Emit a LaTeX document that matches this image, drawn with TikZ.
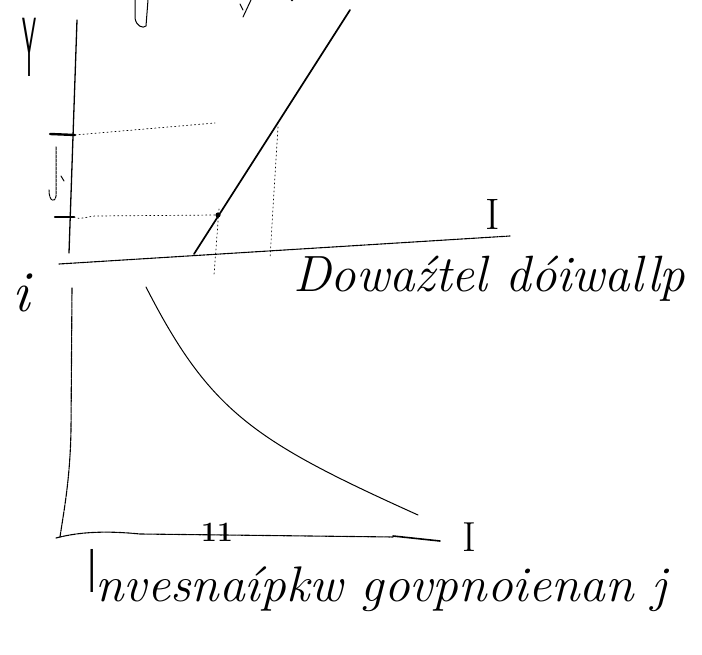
\documentclass[tikz,border=0pt]{standalone}
\usetikzlibrary{calc}
\begin{document}
\begin{tikzpicture}[x=1pt,y=-1pt,line cap=round,line join=round,
  axisline/.style={line width=1.3pt},
  scanline/.style={line width=1.1pt,dash pattern=on 6pt off 1pt},
  guide/.style={line width=0.7pt,dash pattern=on 1.2pt off 2.8pt},
  tickmark/.style={line width=2.4pt},
  sketch/.style={line width=1pt},
  handtext/.style={font=\itshape\fontsize{51}{51}\selectfont,inner sep=0pt,anchor=base west},
  letter/.style={inner sep=0pt}]
\useasboundingbox (0,0) rectangle (702,655);

% ---- labels
\node[letter] (Ylab) at (30,47) {\scalebox{0.28}[1.05]{\sffamily\fontsize{80}{80}\selectfont Y}};
\node[letter] (ilab) at (21,293) {\fontsize{58}{58}\selectfont\itshape i};
\node[letter] (Iup) at (493,214) {\fontsize{44}{44}\selectfont I};
\node[letter] (Ilow) at (469,537) {\fontsize{42}{42}\selectfont I};
\node[letter] (eleven) at (217,532) {\fontsize{28}{28}\selectfont\bfseries 11};
\node[handtext] (midtext) at (293,292) {Dowaźtel dóiwallp};
\node[handtext,font=\itshape\fontsize{50}{50}\selectfont] (bottext) at (88,601)
  {\scalebox{1.03}[1]{\smash{\raisebox{9pt}{\scalebox{0.45}[1]{\fontsize{62}{62}\selectfont\sffamily\upshape I}}}nvesnaípkw govpnoienan j}};

% ---- coordinates
\coordinate (uaxtop) at (77,20);
\coordinate (uaxbot) at (69,253);
\coordinate (t1a) at (50,134);
\coordinate (t1b) at (75,135);
\coordinate (t2a) at (55,217);
\coordinate (t2b) at (74,217);
\coordinate (g1end) at (215,123);
\coordinate (hlstart) at (59,264);
\coordinate (hlend) at (510,236);
\coordinate (sfoot) at (194,254);
\coordinate (stop) at (350,10);
\coordinate (pt) at (218,215);
\coordinate (v1top) at (219,209);
\coordinate (v1bot) at (214,275);
\coordinate (v2top) at (278,127);
\coordinate (v2bot) at (270,258);
\coordinate (laxtop) at (72,288);
\coordinate (laxmid) at (71,430);
\coordinate (laxbot) at (60,537);
\coordinate (baxstart) at (56,538);
\coordinate (baxend) at (440,541);
\coordinate (cstart) at (146,287);
\coordinate (cend) at (418,515);

% ---- upper panel
\draw[axisline] (uaxtop) -- (uaxbot);
\draw[tickmark] (t1a) -- (t1b);
\draw[tickmark] (t2a) -- (t2b);
\draw[guide] (t1b) -- (g1end);
\draw[guide] (t2b) .. controls (80,220) and (85,217) .. (95,216) -- (pt);
\draw[scanline] (hlstart) -- (hlend);
\draw[line width=1.7pt] (sfoot) -- (stop);
\fill (pt) circle (2.6pt);
\draw[guide] (v1top) -- (v1bot);
\draw[guide] (v2top) -- (v2bot);
% arrow sign between the ticks
\draw[sketch,dash pattern=on 3pt off 1pt] (56,147) -- (56,196) .. controls (55,203) and (49,202) .. (49,190);
\draw[sketch] (61,176) -- (64,181);

% ---- lower panel
\draw[scanline] (laxtop) -- (laxmid) .. controls (70,480) and (64,510) .. (laxbot);
\draw[scanline] (baxstart) .. controls (75,533) and (100,530) .. (140,534) -- (393,537);
\draw[line width=1.6pt] (393,536) -- (baxend);
\draw[sketch] (cstart) .. controls (210,412) and (254,441) .. (cend);

% ---- fragments of text cut by the top edge
\draw[sketch] (135,0) -- (135,18) .. controls (136,26) and (143,29) .. (146,26) -- (148,0);
\draw[sketch] (251,0) -- (243,17);
\draw[sketch] (240,4) -- (243,10);
\fill (292,0) circle (1.5pt);
\end{tikzpicture}
\end{document}
